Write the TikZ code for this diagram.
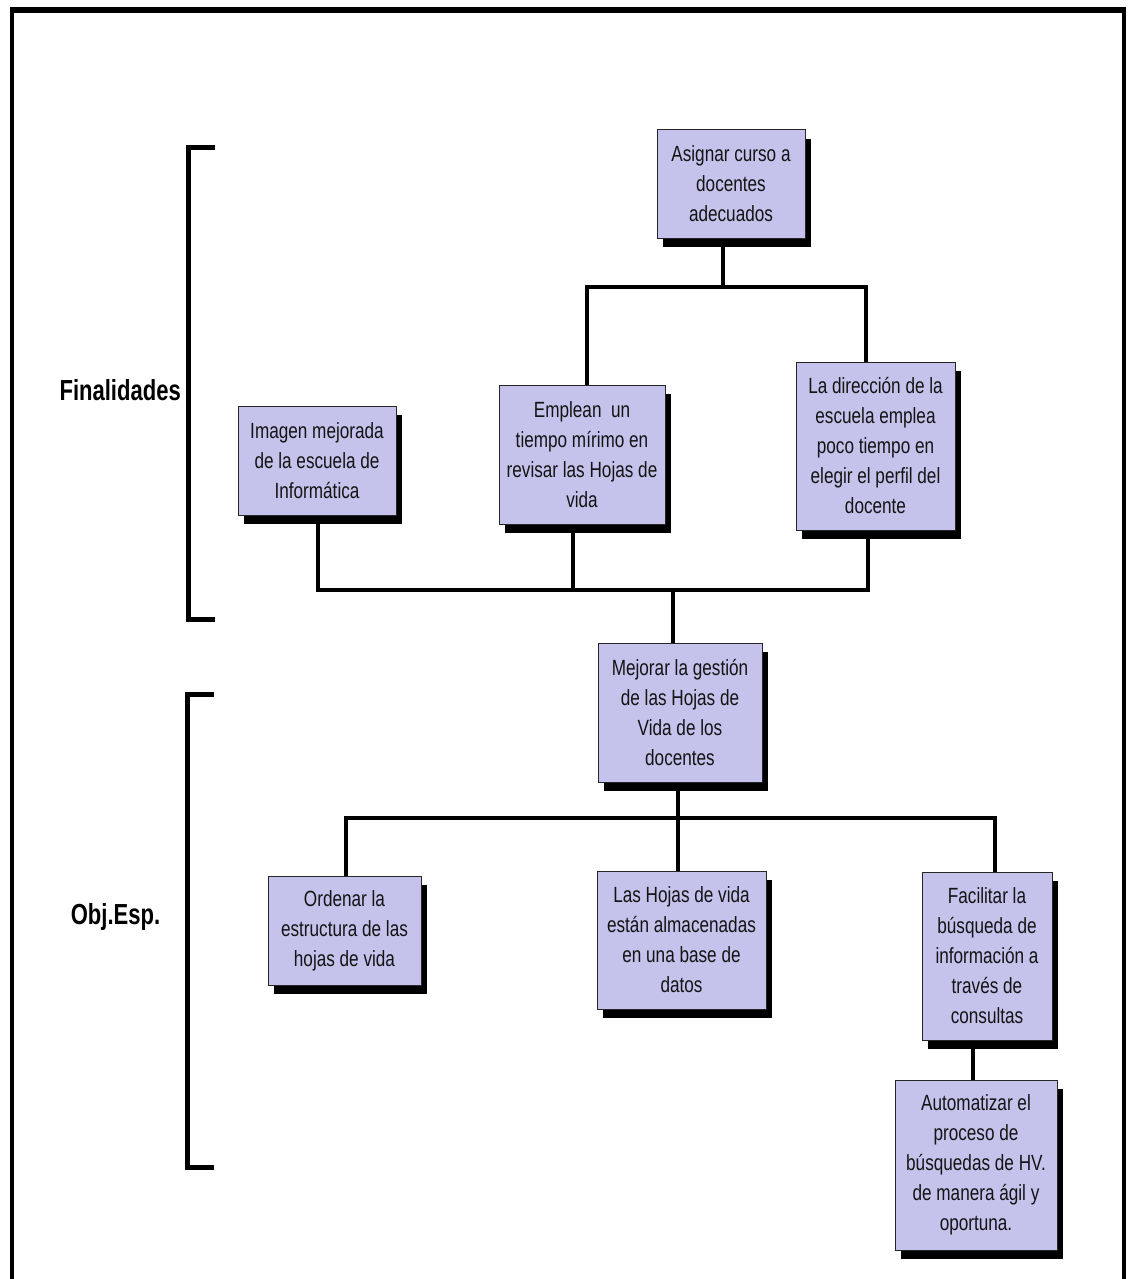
\documentclass[tikz,border=0pt]{standalone}
\usepackage{fontspec}
\newfontfamily\boxfont[FakeStretch=0.78]{Liberation Sans}
\newfontfamily\labfont[FakeStretch=0.76]{Liberation Sans Bold}
\usetikzlibrary{shadows}
\definecolor{lav}{RGB}{197,194,235}
\definecolor{ink}{RGB}{20,20,20}
\tikzset{
  box/.style={draw=black!85, line width=1pt, fill=lav, inner sep=0pt,
    align=center, text=ink, font=\boxfont\fontsize{22}{30}\selectfont,
    general shadow={fill=black, shadow xshift=6pt, shadow yshift=-9pt}},
  conn/.style={line width=4pt, line join=miter},
  brack/.style={line width=5pt, line join=miter},
  lab/.style={font=\labfont\fontsize{29}{34}\selectfont, text=black, inner sep=0pt}
}
\begin{document}
\begin{tikzpicture}[x=1pt,y=-1pt]
\useasboundingbox (0,0) rectangle (1131,1279);
% frame
\draw[line width=4pt] (12,1290) -- (12,10) -- (1124,10) -- (1124,1290);
\draw[line width=6pt] (10,10) -- (1126,10);

% brackets and labels
\draw[brack] (215,147) -- (188,147) -- (188,619) -- (215,619);
\draw[brack] (214,694) -- (187,694) -- (187,1167) -- (214,1167);
\node[lab, anchor=east] (fin) at (181,390) {Finalidades};
\node[lab] (obj) at (115.5,917) {Obj.Esp.};

% boxes
\node[box, minimum width=148pt, minimum height=108pt] (asignar) at (731,184)
  {Asignar curso a\\docentes\\adecuados};
\node[box, minimum width=158pt, minimum height=109pt] (imagen) at (317,460.5)
  {Imagen mejorada\\de la escuela de\\Informática};
\node[box, minimum width=166pt, minimum height=139pt] (emplean) at (582,454.5)
  {Emplean~ un\\tiempo mírimo en\\revisar las Hojas de\\vida};
\node[box, minimum width=159pt, minimum height=168pt] (direccion) at (875.5,446)
  {La dirección de la\\escuela emplea\\poco tiempo en\\elegir el perfil del\\docente};
\node[box, minimum width=164pt, minimum height=139pt] (mejorar) at (680,712.5)
  {Mejorar la gestión\\de las Hojas de\\Vida de los\\docentes};
\node[box, minimum width=153pt, minimum height=109pt] (ordenar) at (344.5,930.5)
  {Ordenar la\\estructura de las\\hojas de vida};
\node[box, minimum width=169pt, minimum height=138pt] (hojas) at (681.5,940)
  {Las Hojas de vida\\están almacenadas\\en una base de\\datos};
\node[box, minimum width=130pt, minimum height=168pt] (facilitar) at (987,956)
  {Facilitar la\\búsqueda de\\información a\\través de\\consultas};
\node[box, minimum width=162pt, minimum height=170pt] (automatizar) at (976,1165)
  {Automatizar el\\proceso de\\búsquedas de HV.\\de manera ágil y\\oportuna.};

% bus coordinates
\coordinate (uj) at (723,287);
\coordinate (ua) at (587,287);
\coordinate (ub) at (866,287);
\coordinate (ma) at (318,590);
\coordinate (mb) at (868,590);
\coordinate (me) at (573,590);
\coordinate (mj) at (673,590);
\coordinate (la) at (346,818);
\coordinate (lb) at (995,818);
\coordinate (lj) at (678,818);
\coordinate (fa) at (973,1060);

% connectors
\draw[conn] (asignar.south -| uj) -- (uj);
\draw[conn] (emplean.north -| ua) |- (ub) -- (direccion.north -| ub);
\draw[conn] (imagen.south -| ma) |- (mb) -- (direccion.south -| mb);
\draw[conn] (emplean.south -| me) -- (me);
\draw[conn] (mj) -- (mejorar.north -| mj);
\draw[conn] (ordenar.north -| la) |- (lb) -- (facilitar.north -| lb);
\draw[conn] (mejorar.south -| lj) -- (hojas.north -| lj);
\draw[conn] (facilitar.south -| fa) -- (automatizar.north -| fa);
\end{tikzpicture}
\end{document}
